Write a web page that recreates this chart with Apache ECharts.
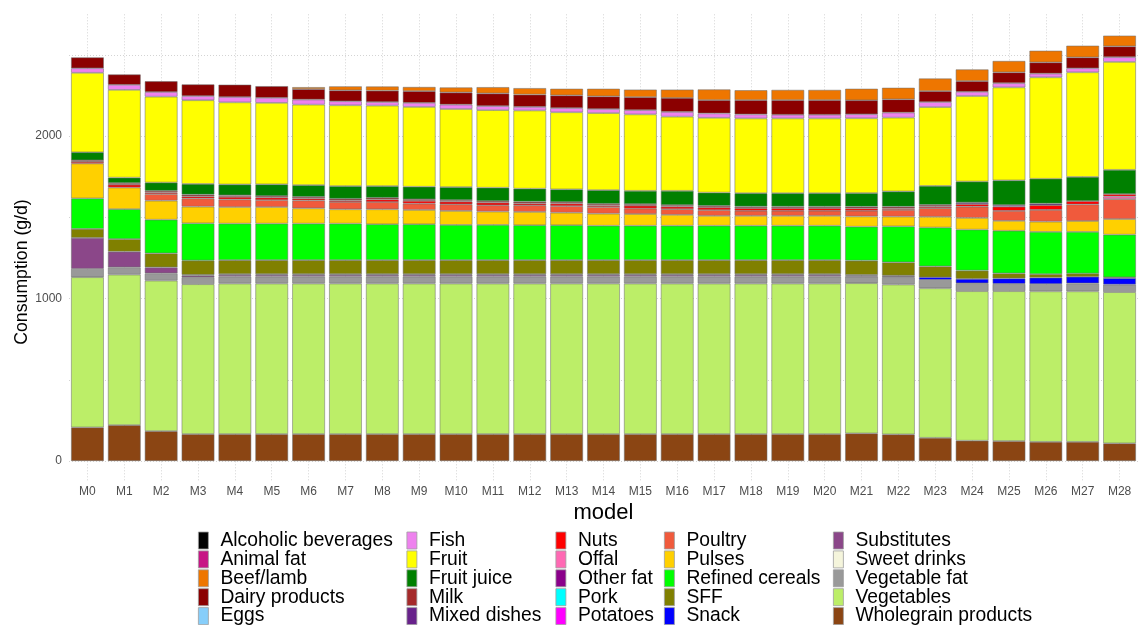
<!DOCTYPE html>
<html>
<head>
<meta charset="utf-8">
<script src="https://cdn.jsdelivr.net/npm/echarts@6/dist/echarts.min.js"></script>
<style>
  html, body { margin: 0; padding: 0; background: #fff; }
  #chart { width: 1138px; height: 625px; }
</style>
</head>
<body>
<div id="chart"></div>
<script>
// 模型
var models = ['M0', 'M1', 'M2', 'M3', 'M4', 'M5', 'M6', 'M7', 'M8', 'M9', 'M10', 'M11', 'M12', 'M13', 'M14',
  'M15', 'M16', 'M17', 'M18', 'M19', 'M20', 'M21', 'M22', 'M23', 'M24', 'M25', 'M26', 'M27', 'M28'];
var yTickValues = [0, 1000, 2000];
var yGridValues = [0, 500, 1000, 1500, 2000, 2500];

// consumption (g/d) per food group, M0..M28
var alcoholic = [0,0,0,0,0,0,0,0,0,0,0,0,0,0,0,0,0,0,0,0,0,0,0,0,0,0,0,0,0];
var animalFat = [0,0,0,0,0,0,0,0,0,0,0,0,0,0,0,0,0,0,0,0,0,0,0,0,0,0,0,0,0];
var beefLamb = [0,0,0,0,0,0,12,25,26,26,31,39,40,41,47,47,52,66,61,63,63,71,71,78,72,70,72,72,66];
var dairy = [67,64,66,72,76,72,65,67,70,72,75,78,76,78,78,80,86,82,88,90,90,86,82,67,66,67,69,67,67];
var eggs = [0,0,0,0,0,0,0,0,0,0,0,0,0,0,0,0,0,0,0,0,0,0,0,0,0,0,0,0,0];
var fish = [28,31,29,26,33,31,31,25,22,25,27,25,22,26,25,26,29,27,25,23,23,25,31,31,26,26,23,25,29];
var fruit = [489,540,528,515,505,501,495,497,495,491,480,477,481,474,474,470,456,460,460,460,460,460,454,485,526,572,624,644,664];
var fruitJuice = [49,34,51,66,67,72,72,78,72,77,80,82,80,78,84,82,88,82,82,82,82,84,94,117,129,152,153,149,149];
var milk = [10,10,10,10,10,10,10,10,10,10,10,10,10,10,10,10,10,10,10,10,10,10,10,10,0,0,0,0,0];
var mixedDishes = [0,0,0,0,0,0,0,0,0,0,0,0,0,0,0,0,0,0,0,0,0,0,0,0,10,10,10,0,0];
var nuts = [10,17,10,13,15,15,12,10,16,17,16,16,12,15,10,17,15,16,16,16,16,15,10,10,16,26,29,20,15];
var offal = [0,0,0,0,0,0,0,0,0,0,0,0,0,0,0,0,0,0,0,0,0,0,0,0,0,0,0,0,16];
var otherFat = [0,0,0,0,0,0,0,0,0,0,0,0,0,0,0,0,0,0,0,0,0,0,0,0,0,0,0,0,0];
var pork = [0,0,0,0,0,0,0,0,0,0,0,0,0,0,0,0,0,0,0,0,0,0,0,0,0,0,0,0,0];
var potatoes = [0,0,0,0,0,0,0,0,0,0,0,0,0,0,0,0,0,0,0,0,0,0,0,0,0,0,0,0,0];
var poultry = [0,0,41,51,47,43,49,45,45,39,41,39,41,41,41,34,35,35,31,31,31,35,41,53,69,61,72,102,123];
var pulses = [215,133,117,102,102,102,94,88,92,88,86,82,82,77,74,72,67,61,61,61,61,63,60,66,72,61,63,67,96];
var refinedCereals = [188,184,207,229,225,225,225,225,221,221,217,217,215,215,212,212,212,212,212,212,212,209,221,239,252,262,260,256,262];
var sff = [55,78,86,88,86,86,86,86,86,86,86,86,86,86,86,86,86,86,86,86,86,88,82,67,51,31,21,20,5];
var snack = [0,0,0,5,5,5,5,5,5,5,5,5,5,5,5,5,5,5,5,5,5,4,4,16,27,34,40,41,40];
var substitutes = [190,96,37,10,10,10,10,10,10,10,10,10,10,10,10,10,10,10,10,10,10,6,6,0,0,0,0,0,0];
var sweetDrinks = [0,0,0,0,0,0,0,0,0,0,0,0,0,0,0,0,0,0,0,0,0,0,0,0,0,0,0,0,0];
var vegetableFat = [52,45,45,43,43,43,43,43,43,43,43,43,43,43,43,43,43,43,43,43,43,41,45,52,49,45,45,49,47];
var vegetables = [924,926,926,922,926,926,926,926,926,926,926,926,926,926,926,926,926,926,926,926,926,924,922,920,920,922,926,926,930];
var wholegrain = [207,221,184,166,166,166,166,166,166,166,166,166,166,166,166,166,166,166,166,166,166,170,164,143,125,123,118,118,109];

// legend order (ggplot: first level on top of the stack)
var foods = [
  { name: 'Alcoholic beverages', data: alcoholic, color: '#000000' },
  { name: 'Animal fat', data: animalFat, color: '#c71585' },
  { name: 'Beef/lamb', data: beefLamb, color: '#ee7600' },
  { name: 'Dairy products', data: dairy, color: '#8b0000' },
  { name: 'Eggs', data: eggs, color: '#87cefa' },
  { name: 'Fish', data: fish, color: '#ee82ee' },
  { name: 'Fruit', data: fruit, color: '#ffff00' },
  { name: 'Fruit juice', data: fruitJuice, color: '#008000' },
  { name: 'Milk', data: milk, color: '#a52a2a' },
  { name: 'Mixed dishes', data: mixedDishes, color: '#68228b' },
  { name: 'Nuts', data: nuts, color: '#ff0000' },
  { name: 'Offal', data: offal, color: '#ff69b4' },
  { name: 'Other fat', data: otherFat, color: '#8b008b' },
  { name: 'Pork', data: pork, color: '#00ffff' },
  { name: 'Potatoes', data: potatoes, color: '#ff00ff' },
  { name: 'Poultry', data: poultry, color: '#f05a3c' },
  { name: 'Pulses', data: pulses, color: '#ffd000' },
  { name: 'Refined cereals', data: refinedCereals, color: '#00ff00' },
  { name: 'SFF', data: sff, color: '#808000' },
  { name: 'Snack', data: snack, color: '#0000ff' },
  { name: 'Substitutes', data: substitutes, color: '#8b4789' },
  { name: 'Sweet drinks', data: sweetDrinks, color: '#f5f5dc' },
  { name: 'Vegetable fat', data: vegetableFat, color: '#999999' },
  { name: 'Vegetables', data: vegetables, color: '#bcee68' },
  { name: 'Wholegrain products', data: wholegrain, color: '#8b4513' }
];

var chart = echarts.init(document.getElementById('chart'));
var font = "'Liberation Sans', Arial, sans-serif";
var gridStyle = { color: '#d4d4d4', type: [1, 2], width: 1 };

// bottom of stack first
var series = foods.slice().reverse().map(function (f) {
  return {
    name: f.name,
    type: 'bar',
    stack: 'total',
    barWidth: '89%',
    color: f.color,
    itemStyle: { color: f.color, borderColor: 'rgba(110,110,110,0.75)', borderWidth: 0.7 },
    emphasis: { disabled: true },
    data: f.data.map(function (v) { return v === 0 ? '-' : v; })
  };
});

var legendCols = [198, 406.5, 555.5, 664, 833];
var legends = legendCols.map(function (x, i) {
  return {
    orient: 'vertical',
    left: x,
    top: 531,
    width: 300,
    height: 140,
    padding: 0,
    itemWidth: 10,
    itemHeight: 17,
    itemGap: -0.1,
    icon: 'rect',
    selectedMode: false,
    itemStyle: { borderColor: '#a0a0a0', borderWidth: 0.8 },
    textStyle: { fontFamily: font, fontSize: 19.3, color: '#000', lineHeight: 17, padding: [0, 0, 0, 7] },
    data: foods.slice(i * 5, i * 5 + 5).map(function (f) { return f.name; })
  };
});

var option = {
  animation: false,
  backgroundColor: '#fff',
  textStyle: { fontFamily: font },
  grid: { left: 69, top: 14.3, width: 1076, height: 468 },
  legend: legends,
  xAxis: [{
    type: 'category',
    data: models,
    axisLine: { show: false },
    axisTick: { show: false },
    splitLine: { show: false },
    axisLabel: { color: '#4d4d4d', fontSize: 12, margin: 3, fontFamily: font },
    name: 'model',
    nameLocation: 'middle',
    nameGap: 11,
    nameTextStyle: { fontFamily: font, fontSize: 22, color: '#000', verticalAlign: 'top' }
  }, {
    type: 'value',
    min: -0.5,
    max: 28.5,
    position: 'bottom',
    axisLine: { show: false },
    axisLabel: { show: false },
    axisTick: { show: false, customValues: models.map(function (m, i) { return i; }) },
    splitLine: { show: true, lineStyle: gridStyle }
  }],
  yAxis: {
    type: 'value',
    min: -131,
    max: 2749,
    axisLine: { show: false },
    axisTick: { show: false, customValues: yGridValues },
    axisLabel: {
      customValues: yTickValues, color: '#4d4d4d', fontSize: 12, margin: 7, fontFamily: font,
      formatter: function (v) { return String(v); }
    },
    splitLine: { show: true, lineStyle: gridStyle }
  },
  graphic: [{
    type: 'text',
    x: 22,
    y: 272,
    rotation: Math.PI / 2,
    style: { text: 'Consumption (g/d)', fontFamily: font, fontSize: 17.7, fill: '#000', align: 'center', verticalAlign: 'middle' }
  }],
  series: series
};
chart.setOption(option);
</script>
</body>
</html>
